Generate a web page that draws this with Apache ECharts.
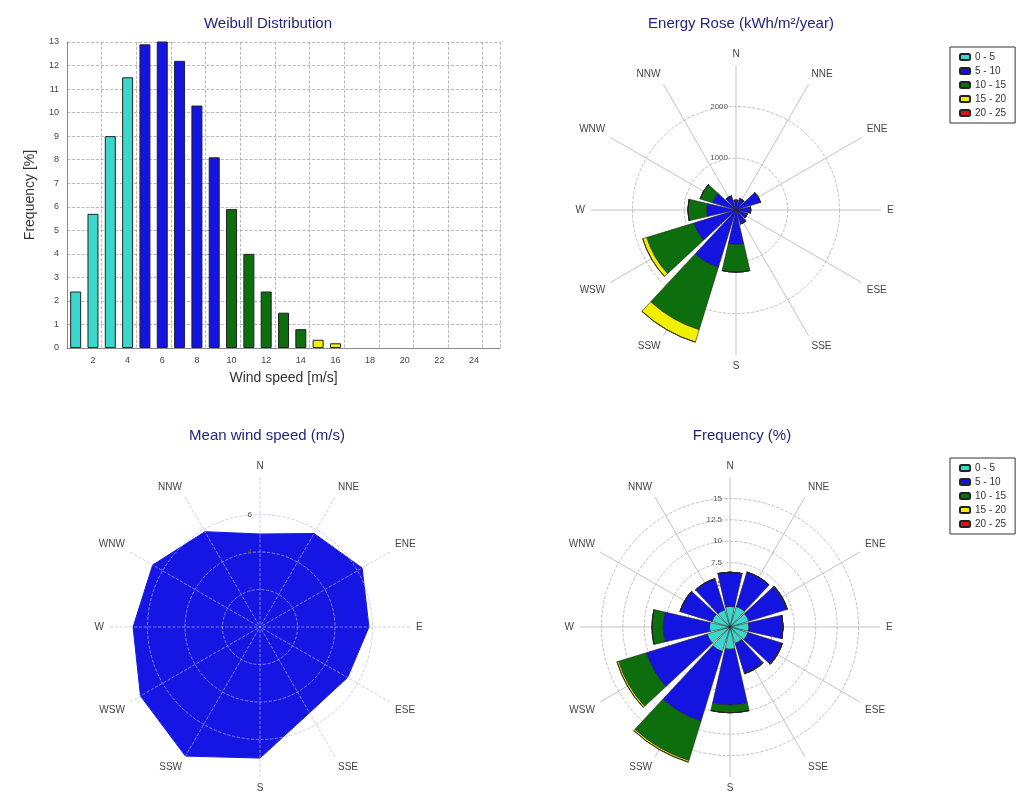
<!DOCTYPE html>
<html>
<head>
<meta charset="utf-8">
<script src="https://cdn.jsdelivr.net/npm/echarts@6/dist/echarts.min.js"></script>
<style>
  html, body { margin: 0; padding: 0; background: #fff; }
  #chart { width: 1022px; height: 799px; }
</style>
</head>
<body>
<div id="chart"></div>
<script>
// wind speed bins (m/s) and Weibull frequency (%)
const windSpeed = ['1','2','3','4','5','6','7','8','9','10','11','12','13','14','15','16','17','18','19','20','21','22','23','24','25'];
const frequency = [2.4, 5.7, 9.0, 11.5, 12.9, 13.1, 12.2, 10.3, 8.1, 5.9, 4.0, 2.4, 1.5, 0.8, 0.35, 0.2];

// speed classes
const classNames = ['0 - 5', '5 - 10', '10 - 15', '15 - 20', '20 - 25'];

// direction sectors
const directions = ['N', 'NNE', 'ENE', 'E', 'ESE', 'SSE', 'S', 'SSW', 'WSW', 'W', 'WNW', 'NNW'];
const dirAngles = [0, 30, 60, 90, 120, 150, 180, 210, 240, 270, 300, 330];

// energy rose per speed class
const energy0to5   = [20, 20, 25, 20, 20, 20, 30, 40, 35, 30, 25, 20];
const energy5to10  = [170, 210, 470, 265, 200, 250, 640, 1120, 820, 540, 450, 265];
const energy10to15 = [0, 0, 0, 0, 10, 15, 530, 1260, 950, 360, 250, 0];
const energy15to20 = [0, 0, 0, 0, 0, 0, 0, 250, 80, 0, 0, 0];
const energy20to25 = [0, 0, 0, 0, 0, 0, 0, 0, 0, 0, 0, 0];

// mean wind speed (m/s) per direction
const meanSpeed = [4.96, 5.76, 6.29, 5.81, 5.39, 5.28, 6.99, 7.95, 7.36, 6.77, 6.61, 5.87];

// frequency rose (%) per speed class
const freq0to5   = [2.4, 2.5, 2.3, 2.2, 2.2, 2.0, 2.6, 3.0, 2.8, 2.4, 2.2, 2.1];
const freq5to10  = [4.0, 4.2, 4.6, 4.0, 4.1, 3.6, 6.5, 8.5, 7.4, 5.4, 3.9, 3.8];
const freq10to15 = [0, 0, 0.1, 0, 0.1, 0.1, 0.9, 4.8, 3.4, 1.3, 0, 0];
const freq15to20 = [0, 0, 0, 0, 0, 0, 0, 0.2, 0.2, 0, 0, 0];
const freq20to25 = [0, 0, 0, 0, 0, 0, 0, 0, 0, 0, 0, 0];

const classColors = ['#3ad8cc', '#1414e0', '#0c6e0c', '#f0f000', '#e01010'];
const font = "'Liberation Sans', Arial, sans-serif";

const chart = echarts.init(document.getElementById('chart'));

function titleAt(text, x, y) {
    return {
        text: text, left: x, top: y, textAlign: 'center',
        textStyle: { fontSize: 15, fontWeight: 'normal', color: '#24247a', fontFamily: font }
    };
}

// angle axis with direction labels and spokes
function gridAngle(idx, onTop) {
    return {
        polarIndex: idx, type: 'value', min: 0, max: 360, interval: 30,
        startAngle: 90, clockwise: true, z: onTop ? 5 : 0,
        axisLine: { show: false }, axisTick: { show: false },
        axisLabel: {
            fontSize: 10, color: '#444', fontFamily: font, margin: 6,
            formatter: v => { const i = dirAngles.indexOf(v); return i >= 0 ? directions[i] : ''; }
        },
        splitLine: { show: true, lineStyle: { color: onTop ? 'rgba(180,180,230,0.8)' : '#b4b4b4', width: 0.8, type: onTop ? 'dashed' : 'solid' } }
    };
}
// hidden category angle axis for the stacked sectors
function barAngle(idx) {
    return {
        polarIndex: idx, type: 'category', data: directions, startAngle: 105, clockwise: true,
        axisLine: { show: false }, axisTick: { show: false }, axisLabel: { show: false }, splitLine: { show: false }
    };
}
function gridRadius(idx, max, step, onTop) {
    const ring = onTop ? 'rgba(180,180,220,0.8)' : '#b0b0b0';
    const n = Math.round(max / step) + 1;
    const colors = [];
    for (let i = 0; i < n; i++) colors.push(i === n - 1 ? 'rgba(0,0,0,0)' : ring);
    return {
        polarIndex: idx, min: 0, max: max, interval: step, z: onTop ? 5 : 0,
        axisLine: { show: false }, axisTick: { show: false },
        axisLabel: { fontSize: 8, color: '#555', fontFamily: font, formatter: v => (v === 0 || v === max) ? '' : v },
        splitLine: { show: true, lineStyle: { type: 'dashed', color: colors, width: 0.8 } }
    };
}
function hiddenRadius(idx, max) {
    return {
        polarIndex: idx, min: 0, max: max,
        axisLine: { show: false }, axisTick: { show: false }, axisLabel: { show: false }, splitLine: { show: false }
    };
}

function stackSeries(polarIndex, stack, arrays) {
    return arrays.map((arr, i) => ({
        type: 'bar', coordinateSystem: 'polar', polarIndex: polarIndex,
        name: classNames[i], stack: stack, data: arr, barCategoryGap: '14%',
        itemStyle: { color: classColors[i], borderColor: '#222', borderWidth: 0.6 }
    }));
}

function legendAt(top) {
    return {
        data: classNames, orient: 'vertical', left: 950, top: top,
        itemGap: 4, itemWidth: 10, itemHeight: 6,
        borderColor: '#333', borderWidth: 1, padding: [5, 9], backgroundColor: '#fff',
        textStyle: { fontSize: 10, color: '#333', fontFamily: font }
    };
}

const option = {
    animation: false,
    backgroundColor: '#fff',
    textStyle: { fontFamily: font },
    title: [
        titleAt('Weibull Distribution', 263, 11),
        titleAt('Energy Rose (kWh/m²/year)', 736, 11),
        titleAt('Mean wind speed (m/s)', 262, 423),
        titleAt('Frequency (%)', 737, 423)
    ],
    legend: [legendAt(47), legendAt(458)],
    grid: { left: 67, right: 522, top: 42, bottom: 451 },
    xAxis: {
        type: 'category', data: windSpeed,
        name: 'Wind speed [m/s]', nameLocation: 'middle', nameGap: 23,
        nameTextStyle: { fontSize: 14, color: '#333' },
        axisLine: { lineStyle: { color: '#888' } },
        axisTick: { show: false },
        axisLabel: { fontSize: 9, color: '#444', interval: (i, v) => Number(v) % 2 === 0 },
        splitLine: { show: true, interval: (i, v) => Number(v) % 2 === 1, lineStyle: { type: 'dashed', color: '#aaa', width: 0.8 } }
    },
    yAxis: {
        type: 'value', min: 0, max: 13, interval: 1,
        name: 'Frequency [%]', nameLocation: 'middle', nameGap: 30,
        nameTextStyle: { fontSize: 14, color: '#333' },
        axisLine: { show: true, lineStyle: { color: '#888' } },
        axisLabel: { fontSize: 9, color: '#444' },
        splitLine: { lineStyle: { type: 'dashed', color: '#aaa', width: 0.8 } }
    },
    polar: [
        { center: [736, 210], radius: 145 },
        { center: [736, 210], radius: 145 },
        { center: [260, 627], radius: 150 },
        { center: [730, 627], radius: 150 },
        { center: [730, 627], radius: 150 }
    ],
    angleAxis: [gridAngle(0, false), barAngle(1), gridAngle(2, true), gridAngle(3, false), barAngle(4)],
    radiusAxis: [
        gridRadius(0, 2800, 1000, false), hiddenRadius(1, 2800),
        gridRadius(2, 8, 2, true),
        gridRadius(3, 17.5, 2.5, false), hiddenRadius(4, 17.5)
    ],
    series: [
        {
            type: 'bar', name: 'Frequency', data: frequency, barWidth: 11,
            itemStyle: {
                borderColor: '#222', borderWidth: 1,
                color: p => classColors[Math.min(4, Math.floor(Number(windSpeed[p.dataIndex]) / 5))]
            }
        },
        ...stackSeries(1, 'energy', [energy0to5, energy5to10, energy10to15, energy15to20, energy20to25]),
        {
            type: 'line', coordinateSystem: 'polar', polarIndex: 2, name: 'Mean wind speed',
            data: dirAngles.concat([360]).map((a, i) => [meanSpeed[i % meanSpeed.length], a]),
            symbol: 'none',
            lineStyle: { color: '#1616e4', width: 1 },
            areaStyle: { color: '#1616e4', opacity: 1 }
        },
        ...stackSeries(4, 'freq', [freq0to5, freq5to10, freq10to15, freq15to20, freq20to25])
    ]
};

chart.setOption(option);
</script>
</body>
</html>
